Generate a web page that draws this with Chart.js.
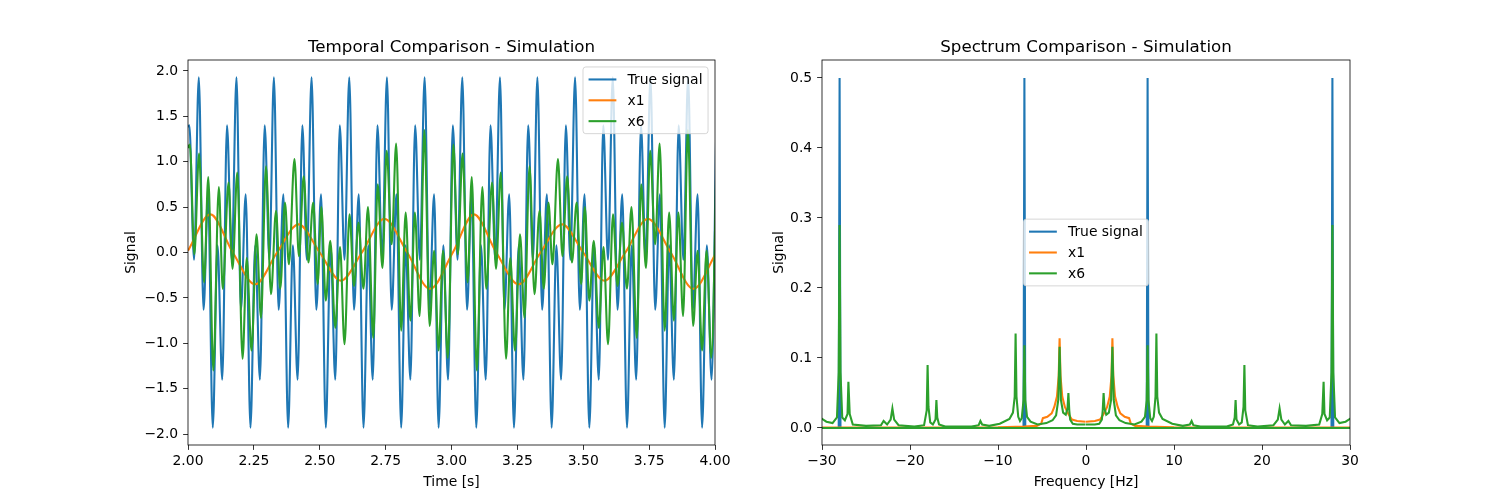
<!DOCTYPE html>
<html>
<head>
<meta charset="utf-8">
<script src="https://cdn.jsdelivr.net/npm/chart.js@4.4.0/dist/chart.umd.min.js"></script>
<style>
  html, body { margin: 0; padding: 0; background: #fff; }
  #wrap { position: relative; width: 1500px; height: 500px; }
  canvas { position: absolute; top: 0; }
</style>
</head>
<body>
<div id="wrap">
  <canvas id="temporal" width="750" height="500" style="left:0"></canvas>
  <canvas id="spectrum" width="750" height="500" style="left:750px"></canvas>
</div>
<script>
// names and ticks
var seriesNames = ["True signal", "x1", "x6"];
var timeTicks = [2.0, 2.25, 2.5, 2.75, 3.0, 3.25, 3.5, 3.75, 4.0];
var signalTicks = [-2.0, -1.5, -1.0, -0.5, 0.0, 0.5, 1.0, 1.5, 2.0];
var freqTicks = [-30, -20, -10, 0, 10, 20, 30];
var specTicks = [0.0, 0.1, 0.2, 0.3, 0.4, 0.5];

// temporal: true signal (peaks and troughs)
var trueT = [2.000, 2.005, 2.023, 2.041, 2.059, 2.076, 2.094, 2.112, 2.130,
  2.148, 2.166, 2.184, 2.201, 2.219, 2.237, 2.255, 2.273,
  2.291, 2.309, 2.326, 2.344, 2.362, 2.380, 2.398, 2.416,
  2.434, 2.451, 2.469, 2.487, 2.505, 2.523, 2.541, 2.559,
  2.576, 2.594, 2.612, 2.630, 2.648, 2.666, 2.684, 2.701,
  2.719, 2.737, 2.755, 2.773, 2.791, 2.809, 2.826, 2.844,
  2.862, 2.880, 2.898, 2.916, 2.934, 2.951, 2.969, 2.987,
  3.005, 3.023, 3.041, 3.059, 3.076, 3.094, 3.112, 3.130,
  3.148, 3.166, 3.184, 3.201, 3.219, 3.237, 3.255, 3.273,
  3.291, 3.309, 3.326, 3.344, 3.362, 3.380, 3.398, 3.416,
  3.434, 3.451, 3.469, 3.487, 3.505, 3.523, 3.541, 3.559,
  3.576, 3.594, 3.612, 3.630, 3.648, 3.666, 3.684, 3.701,
  3.719, 3.737, 3.755, 3.773, 3.791, 3.809, 3.826, 3.844,
  3.862, 3.880, 3.898, 3.916, 3.934, 3.951, 3.969, 3.987,
  4.005];
var trueY = [1.38, 1.40, -0.08, 1.93, -0.63, 0.64, -1.93, 0.08, -1.40,
  1.40, -0.08, 1.93, -0.63, 0.64, -1.93, 0.08, -1.40,
  1.40, -0.08, 1.93, -0.63, 0.64, -1.93, 0.08, -1.40,
  1.40, -0.08, 1.93, -0.63, 0.64, -1.93, 0.08, -1.40,
  1.40, -0.08, 1.93, -0.63, 0.64, -1.93, 0.08, -1.40,
  1.40, -0.08, 1.93, -0.63, 0.64, -1.93, 0.08, -1.40,
  1.40, -0.08, 1.93, -0.63, 0.64, -1.93, 0.08, -1.40,
  1.40, -0.08, 1.93, -0.63, 0.64, -1.93, 0.08, -1.40,
  1.40, -0.08, 1.93, -0.63, 0.64, -1.93, 0.08, -1.40,
  1.40, -0.08, 1.93, -0.63, 0.64, -1.93, 0.08, -1.40,
  1.40, -0.08, 1.93, -0.63, 0.64, -1.93, 0.08, -1.40,
  1.40, -0.08, 1.93, -0.63, 0.64, -1.93, 0.08, -1.40,
  1.40, -0.08, 1.93, -0.63, 0.64, -1.93, 0.08, -1.40,
  1.40, -0.08, 1.93, -0.63, 0.64, -1.93, 0.08, -1.40,
  1.40];

// temporal: x1
var x1T = [2.000, 2.085, 2.170, 2.255, 2.338, 2.420, 2.500, 2.580, 2.660, 2.745, 2.832, 2.918,
  3.005, 3.085, 3.170, 3.255, 3.338, 3.420, 3.500, 3.580, 3.660, 3.745, 3.832, 3.918, 4.005];
var x1Y = [0.02, 0.42, 0.00, -0.35, 0.00, 0.31, 0.00, -0.31, 0.00, 0.37, 0.00, -0.40,
  0.00, 0.42, 0.00, -0.35, 0.00, 0.31, 0.00, -0.31, 0.00, 0.37, 0.00, -0.40, 0.00];

// temporal: x6
var x6T = [2.000, 2.007, 2.024, 2.042, 2.061, 2.077, 2.096, 2.117, 2.132, 2.154, 2.169, 2.187,
  2.207, 2.223, 2.241, 2.260, 2.277, 2.296, 2.315, 2.334, 2.350, 2.368, 2.383, 2.404,
  2.421, 2.439, 2.457, 2.475, 2.492, 2.506, 2.523, 2.540, 2.559, 2.577, 2.594, 2.613,
  2.630, 2.647, 2.666, 2.683, 2.703, 2.720, 2.738, 2.754, 2.773, 2.790, 2.809, 2.826,
  2.844, 2.861, 2.879, 2.897, 2.917, 2.934, 2.951, 2.968, 2.986,
  3.007, 3.024, 3.042, 3.061, 3.077, 3.096, 3.117, 3.132, 3.154, 3.169, 3.187,
  3.207, 3.223, 3.241, 3.260, 3.277, 3.296, 3.315, 3.334, 3.350, 3.368, 3.383, 3.404,
  3.421, 3.439, 3.457, 3.475, 3.492, 3.506, 3.523, 3.540, 3.559, 3.577, 3.594, 3.613,
  3.630, 3.647, 3.666, 3.683, 3.703, 3.720, 3.738, 3.754, 3.773, 3.790, 3.809, 3.826,
  3.844, 3.861, 3.879, 3.897, 3.917, 3.934, 3.951, 3.968, 3.986, 4.007];
var x6Y = [1.15, 1.19, -0.02, 1.09, -0.33, 0.83, -1.30, 0.72, -0.40, 0.77, -0.18, 0.88,
  -1.17, -0.06, -1.08, 0.20, -0.72, 0.95, -0.46, 0.46, -0.40, 0.55, -0.13, 1.03,
  -0.04, 0.84, -0.11, 0.55, -0.35, 0.50, -0.53, 0.13, -0.83, 0.06, -1.01, 0.42,
  -0.37, 0.33, -0.40, 0.50, -0.94, 0.75, -0.17, 1.12, 0.09, 1.20, -0.86, 0.44,
  -0.75, 0.44, -0.70, 1.35, -0.81, 0.02, -1.08, 0.02, -1.16,
  1.19, -0.02, 1.09, -0.33, 0.83, -1.30, 0.72, -0.40, 0.77, -0.18, 0.88,
  -1.17, -0.06, -1.08, 0.20, -0.72, 0.95, -0.46, 0.46, -0.40, 0.55, -0.13, 1.03,
  -0.04, 0.84, -0.11, 0.55, -0.35, 0.50, -0.53, 0.13, -0.83, 0.06, -1.01, 0.42,
  -0.37, 0.33, -0.40, 0.50, -0.94, 0.75, -0.17, 1.12, 0.09, 1.20, -0.86, 0.44,
  -0.75, 0.44, -0.70, 1.35, -0.81, 0.02, -1.08, 0.02, -1.16, 1.19];

// spectrum, in fft order (0 .. +fmax, then -fmax .. 0)
var trueF = [0.0, 6.9, 7.0, 7.1, 27.9, 28.0, 28.1, 50.0,
  -50.0, -28.1, -28.0, -27.9, -7.1, -7.0, -6.9, -0.05];
var trueS = [0, 0, 0.5, 0, 0, 0.5, 0, 0,
  0, 0, 0.5, 0, 0, 0.5, 0, 0];

var x1F = [0.0, 1.0, 1.6, 2.0, 2.4, 2.7, 2.9, 3.0, 3.1, 3.3, 3.6, 3.9, 4.4, 4.9, 5.1, 5.6, 7.0, 10.0, 50.0,
  -50.0, -10.0, -7.0, -5.6, -5.1, -4.9, -4.4, -3.9, -3.6, -3.3, -3.1, -3.0, -2.9, -2.7, -2.4, -2.0, -1.6, -1.0, -0.05];
var x1S = [0.009, 0.010, 0.012, 0.020, 0.030, 0.045, 0.075, 0.128, 0.075, 0.045, 0.030, 0.021, 0.016, 0.014, 0.006, 0.003, 0.002, 0.001, 0.000,
  0.000, 0.001, 0.002, 0.003, 0.006, 0.014, 0.016, 0.021, 0.030, 0.045, 0.075, 0.128, 0.075, 0.045, 0.030, 0.020, 0.012, 0.010, 0.009];

var x6F = [0.0, 0.5, 1.0, 1.5, 1.8, 1.9, 2.0, 2.1, 2.3, 2.6, 2.85, 3.0, 3.15, 3.4, 3.8, 4.5, 5.5,
  6.3, 6.7, 6.9, 7.0, 7.1, 7.3, 7.5, 7.7, 7.9, 8.0, 8.1, 8.3, 8.7, 9.8, 11.0, 11.8, 12.0, 12.2, 13.0,
  16.0, 16.7, 16.9, 17.0, 17.1, 17.4, 17.7, 17.9, 18.0, 18.1, 18.4, 19.5, 21.3, 21.8, 22.0, 22.2,
  22.6, 23.0, 23.3, 25.0, 26.5, 26.85, 27.0, 27.1, 27.4, 27.7, 27.9, 28.0, 28.1, 28.3, 28.8, 29.5,
  30.0, 30.6, 31.5, 50.0,
  -50.0, -31.5, -30.6, -30.0, -29.5, -28.8, -28.3, -28.1, -28.0, -27.9, -27.7, -27.4, -27.1, -27.0,
  -26.85, -26.5, -25.0, -23.3, -23.0, -22.6, -22.2, -22.0, -21.8, -21.3, -19.5, -18.4, -18.1, -18.0,
  -17.9, -17.7, -17.4, -17.1, -17.0, -16.9, -16.7, -16.0, -13.0, -12.2, -12.0, -11.8, -11.0, -9.8,
  -8.7, -8.3, -8.1, -8.0, -7.9, -7.7, -7.5, -7.3, -7.1, -7.0, -6.9, -6.7, -6.3, -5.5, -4.5, -3.8,
  -3.4, -3.15, -3.0, -2.85, -2.6, -2.3, -2.1, -2.0, -1.9, -1.8, -1.5, -1.0, -0.05];
var x6S = [0.005, 0.005, 0.005, 0.006, 0.012, 0.025, 0.050, 0.028, 0.019, 0.022, 0.040, 0.116, 0.040, 0.018, 0.011, 0.007, 0.005,
  0.009, 0.016, 0.040, 0.118, 0.040, 0.014, 0.010, 0.016, 0.045, 0.135, 0.045, 0.022, 0.013, 0.006, 0.003, 0.005, 0.010, 0.004, 0.002,
  0.002, 0.005, 0.015, 0.040, 0.012, 0.005, 0.008, 0.030, 0.090, 0.025, 0.004, 0.002, 0.004, 0.012, 0.028, 0.012,
  0.005, 0.010, 0.004, 0.003, 0.005, 0.020, 0.066, 0.020, 0.011, 0.015, 0.080, 0.290, 0.080, 0.015, 0.007, 0.009,
  0.013, 0.020, 0.010, 0.000,
  0.000, 0.010, 0.020, 0.013, 0.009, 0.007, 0.015, 0.080, 0.290, 0.080, 0.015, 0.011, 0.020, 0.066,
  0.020, 0.005, 0.003, 0.004, 0.010, 0.005, 0.012, 0.028, 0.012, 0.004, 0.002, 0.004, 0.025, 0.090,
  0.030, 0.008, 0.005, 0.012, 0.040, 0.015, 0.005, 0.002, 0.002, 0.004, 0.010, 0.005, 0.003, 0.006,
  0.013, 0.022, 0.045, 0.135, 0.045, 0.016, 0.010, 0.014, 0.040, 0.118, 0.040, 0.016, 0.009, 0.005, 0.007, 0.011,
  0.018, 0.040, 0.116, 0.040, 0.022, 0.019, 0.028, 0.050, 0.025, 0.012, 0.006, 0.005, 0.005];

var BLUE = '#1f77b4', ORANGE = '#ff7f0e', GREEN = '#2ca02c';
var FS = 13.9;
var FONT = FS + 'px "DejaVu Sans"';

function pts(xs, ys) {
    return xs.map(function (x, i) { return {x: x, y: ys[i]}; });
}

function fmt(v, d) {
    return v.toFixed(d).replace('-', '\u2212');
}

// frame, title, axis labels and legend drawn the matplotlib way
function mplDecor(opts) {
    return {
        id: 'mplDecor',
        afterDraw: function (chart) {
            var ctx = chart.ctx, a = chart.chartArea;
            ctx.save();
            ctx.strokeStyle = '#000';
            ctx.lineWidth = 0.8;
            ctx.strokeRect(a.left, a.top, a.right - a.left, a.bottom - a.top);

            ctx.fillStyle = '#000';
            ctx.textAlign = 'center';
            ctx.textBaseline = 'alphabetic';
            ctx.font = '16.7px "DejaVu Sans"';
            ctx.fillText(opts.title, (a.left + a.right) / 2, a.top - 8.3);

            ctx.font = FONT;
            ctx.fillText(opts.xLabel, (a.left + a.right) / 2, opts.xLabelY);

            ctx.save();
            ctx.translate(opts.yLabelX, (a.top + a.bottom) / 2);
            ctx.rotate(-Math.PI / 2);
            ctx.textBaseline = 'middle';
            ctx.fillText(opts.yLabel, 0, 0);
            ctx.restore();

            // legend
            var handle = 2 * FS, pad = 0.8 * FS, bpad = 0.4 * FS, spacing = 0.5 * FS;
            var items = chart.data.datasets;
            var tw = 0;
            items.forEach(function (d) { tw = Math.max(tw, ctx.measureText(d.label).width); });
            var w = 2 * bpad + handle + pad + tw;
            var h = 2 * bpad + items.length * FS + (items.length - 1) * spacing;
            var x, y;
            if (opts.legend === 'upper right') {
                x = a.right - 0.5 * FS - w;
                y = a.top + 0.5 * FS;
            } else {
                x = (a.left + a.right) / 2 - w / 2;
                y = (a.top + a.bottom) / 2 - h / 2;
            }
            ctx.beginPath();
            ctx.roundRect(x, y, w, h, 2.8);
            ctx.fillStyle = 'rgba(255,255,255,0.8)';
            ctx.fill();
            ctx.strokeStyle = 'rgba(204,204,204,0.8)';
            ctx.lineWidth = 1;
            ctx.stroke();
            items.forEach(function (d, i) {
                var cy = y + bpad + i * (FS + spacing) + FS / 2;
                ctx.strokeStyle = d.borderColor;
                ctx.lineWidth = 2.08;
                ctx.beginPath();
                ctx.moveTo(x + bpad, cy);
                ctx.lineTo(x + bpad + handle, cy);
                ctx.stroke();
                ctx.fillStyle = '#000';
                ctx.textAlign = 'left';
                ctx.textBaseline = 'middle';
                ctx.fillText(d.label, x + bpad + handle + pad, cy + 1);
            });
            ctx.restore();
        }
    };
}

function axis(min, max, tickList, decimals, size, isX) {
    return {
        type: 'linear',
        min: min,
        max: max,
        afterFit: function (s) { if (isX) { s.height = size; } else { s.width = size; } },
        afterBuildTicks: function (s) { s.ticks = tickList.map(function (v) { return {value: v}; }); },
        ticks: {
            color: '#000',
            font: {family: 'DejaVu Sans', size: FS},
            padding: isX ? 3 : 4.9,
            autoSkip: false,
            maxRotation: 0,
            callback: function (v) { return fmt(v, decimals); }
        },
        grid: {
            drawOnChartArea: false,
            drawTicks: true,
            tickLength: 4.9,
            tickColor: '#000',
            tickWidth: 0.8
        },
        border: {display: false}
    };
}

function lineSet(label, data, color, order, curved) {
    return {
        label: label,
        data: data,
        borderColor: color,
        backgroundColor: color,
        borderWidth: 2.08,
        pointRadius: 0,
        fill: false,
        clip: 0,
        order: order,
        tension: curved ? 0.4 : 0,
        cubicInterpolationMode: curved ? 'monotone' : 'default'
    };
}

new Chart(document.getElementById('temporal'), {
    type: 'line',
    data: {
        datasets: [
            lineSet(seriesNames[0], pts(trueT, trueY), BLUE, 3, true),
            lineSet(seriesNames[1], pts(x1T, x1Y), ORANGE, 2, true),
            lineSet(seriesNames[2], pts(x6T, x6Y), GREEN, 1, true)
        ]
    },
    options: {
        responsive: false,
        animation: false,
        devicePixelRatio: 1,
        layout: {padding: {left: 0, right: 35, top: 60, bottom: 0}},
        scales: {
            x: axis(2, 4, timeTicks, 2, 55, true),
            y: axis(-2.12, 2.12, signalTicks, 1, 188, false)
        },
        plugins: {legend: {display: false}, tooltip: {enabled: false}}
    },
    plugins: [mplDecor({
        title: 'Temporal Comparison - Simulation',
        xLabel: 'Time [s]', xLabelY: 486,
        yLabel: 'Signal', yLabelX: 131,
        legend: 'upper right'
    })]
});

new Chart(document.getElementById('spectrum'), {
    type: 'line',
    data: {
        datasets: [
            lineSet(seriesNames[0], pts(trueF, trueS), BLUE, 3, false),
            lineSet(seriesNames[1], pts(x1F, x1S), ORANGE, 2, false),
            lineSet(seriesNames[2], pts(x6F, x6S), GREEN, 1, false)
        ]
    },
    options: {
        responsive: false,
        animation: false,
        devicePixelRatio: 1,
        layout: {padding: {left: 0, right: 150, top: 60, bottom: 0}},
        scales: {
            x: axis(-30, 30, freqTicks, 0, 55, true),
            y: axis(-0.0243, 0.5257, specTicks, 1, 72, false)
        },
        plugins: {legend: {display: false}, tooltip: {enabled: false}}
    },
    plugins: [mplDecor({
        title: 'Spectrum Comparison - Simulation',
        xLabel: 'Frequency [Hz]', xLabelY: 486,
        yLabel: 'Signal', yLabelX: 29,
        legend: 'center'
    })]
});
</script>
</body>
</html>
